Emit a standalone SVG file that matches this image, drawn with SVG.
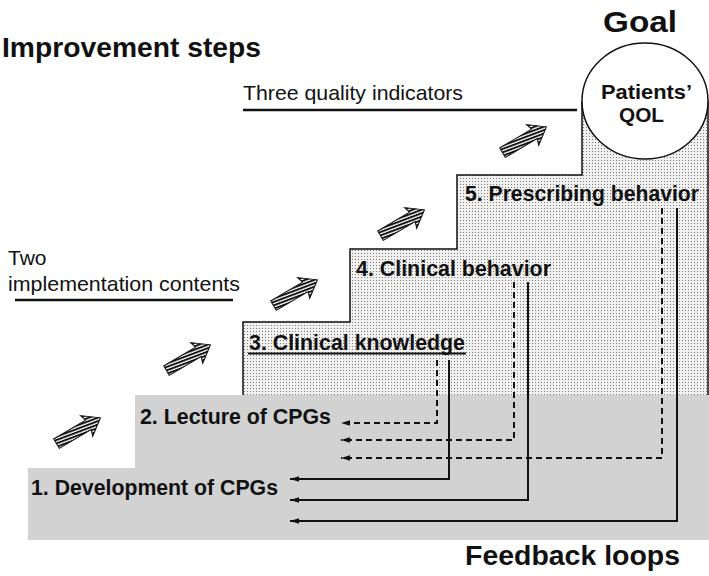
<svg xmlns="http://www.w3.org/2000/svg" width="709" height="576" viewBox="0 0 709 576">
<style>
.b{font-family:"Liberation Sans",Arial,sans-serif;font-weight:bold;fill:#111}
.r{font-family:"Liberation Sans",Arial,sans-serif;fill:#111}
.lbl{font-size:21.5px}
.ul{stroke:#111;stroke-width:2.5;fill:none}
.dash{stroke:#111;stroke-width:2;fill:none;stroke-dasharray:6 4}
.sol{stroke:#111;stroke-width:2;fill:none}
.edge{stroke:#111;stroke-width:1.5;fill:none}
</style>
<defs>
<pattern id="dots" width="3" height="3" patternUnits="userSpaceOnUse">
<rect width="3" height="3" fill="#f0f0f0"/>
<rect x="1" y="1" width="1" height="1" fill="#7a7a7a"/>
</pattern>
<pattern id="hatch" width="10" height="3.2" patternUnits="userSpaceOnUse" patternTransform="rotate(10)">
<rect width="10" height="3.2" fill="#111"/>
<rect y="1.9" width="10" height="1.3" fill="#fff"/>
</pattern>
<marker id="ah" viewBox="0 0 10 6" refX="10" refY="3" markerWidth="9" markerHeight="6" markerUnits="userSpaceOnUse" orient="auto">
<path d="M0,0 L10,3 L0,6 Z" fill="#111"/>
</marker>
<path id="harrow" d="M-25,-5.5 L12,-5.5 L10,-12 L26,0 L10,12 L12,5.5 L-25,5.5 Z" fill="url(#hatch)" stroke="#111" stroke-width="1"/>
</defs>

<g id="base">
<path d="M28,468 H135 V395 H709 V540 H28 Z" fill="#d2d2d2"/>
<path d="M243,395 V322 H350 V249 H457 V175 H582 V101 H708 V395 Z" fill="url(#dots)"/>
<path class="edge" d="M243,395 V322 H350 V249 H457 V175 H582 V101"/>
<path class="edge" d="M708,101 V395"/>
</g>

<g id="goal">
<text class="b" x="603" y="32" font-size="30" textLength="74" lengthAdjust="spacingAndGlyphs">Goal</text>
<ellipse cx="645" cy="101" rx="63" ry="58" fill="#fff" stroke="#111" stroke-width="1.5"/>
<text class="b" x="601" y="99" font-size="21" textLength="91" lengthAdjust="spacingAndGlyphs">Patients’</text>
<text class="b" x="619" y="122" font-size="21" textLength="45" lengthAdjust="spacingAndGlyphs">QOL</text>
</g>

<g id="titles">
<text class="b" x="2" y="57" font-size="27" textLength="259" lengthAdjust="spacingAndGlyphs">Improvement steps</text>
<text class="b" x="465" y="565" font-size="28" textLength="215" lengthAdjust="spacingAndGlyphs">Feedback loops</text>
</g>

<g id="quality-indicators">
<text class="r" x="243" y="100" font-size="21" textLength="220" lengthAdjust="spacingAndGlyphs">Three quality indicators</text>
<line class="ul" x1="243" y1="110" x2="577" y2="110"/>
</g>

<g id="implementation-contents">
<text class="r" x="8" y="265" font-size="21">Two</text>
<text class="r" x="8" y="291" font-size="21" textLength="232" lengthAdjust="spacingAndGlyphs">implementation contents</text>
<line class="ul" x1="15" y1="300" x2="233" y2="300"/>
</g>

<g id="step1"><text class="b lbl" x="31" y="495" textLength="247" lengthAdjust="spacingAndGlyphs">1. Development of CPGs</text></g>
<g id="step2"><text class="b lbl" x="140" y="424" textLength="191" lengthAdjust="spacingAndGlyphs">2. Lecture of CPGs</text></g>
<g id="step3"><text class="b lbl" x="249" y="350" textLength="216" lengthAdjust="spacingAndGlyphs">3. Clinical knowledge</text>
<line x1="248" y1="353.5" x2="466" y2="353.5" stroke="#111" stroke-width="2"/></g>
<g id="step4"><text class="b lbl" x="356" y="276" textLength="195" lengthAdjust="spacingAndGlyphs">4. Clinical behavior</text></g>
<g id="step5"><text class="b lbl" x="465" y="201" textLength="234" lengthAdjust="spacingAndGlyphs">5. Prescribing behavior</text></g>

<g id="step-arrows">
<use href="#harrow" transform="translate(78,431) rotate(-30.5)"/>
<use href="#harrow" transform="translate(188,358) rotate(-30.5)"/>
<use href="#harrow" transform="translate(295,293) rotate(-30.5)"/>
<use href="#harrow" transform="translate(402,223) rotate(-30.5)"/>
<use href="#harrow" transform="translate(524,140) rotate(-30.5)"/>
</g>

<g id="connectors">
<path class="dash" d="M437,360 V423 H341" marker-end="url(#ah)"/>
<path class="dash" d="M514,282 V440 H341" marker-end="url(#ah)"/>
<path class="dash" d="M662,208 V458 H341" marker-end="url(#ah)"/>
<path class="sol" d="M449,360 V479 H290" marker-end="url(#ah)"/>
<path class="sol" d="M528,282 V500 H290" marker-end="url(#ah)"/>
<path class="sol" d="M677,208 V521 H290" marker-end="url(#ah)"/>
</g>
</svg>
